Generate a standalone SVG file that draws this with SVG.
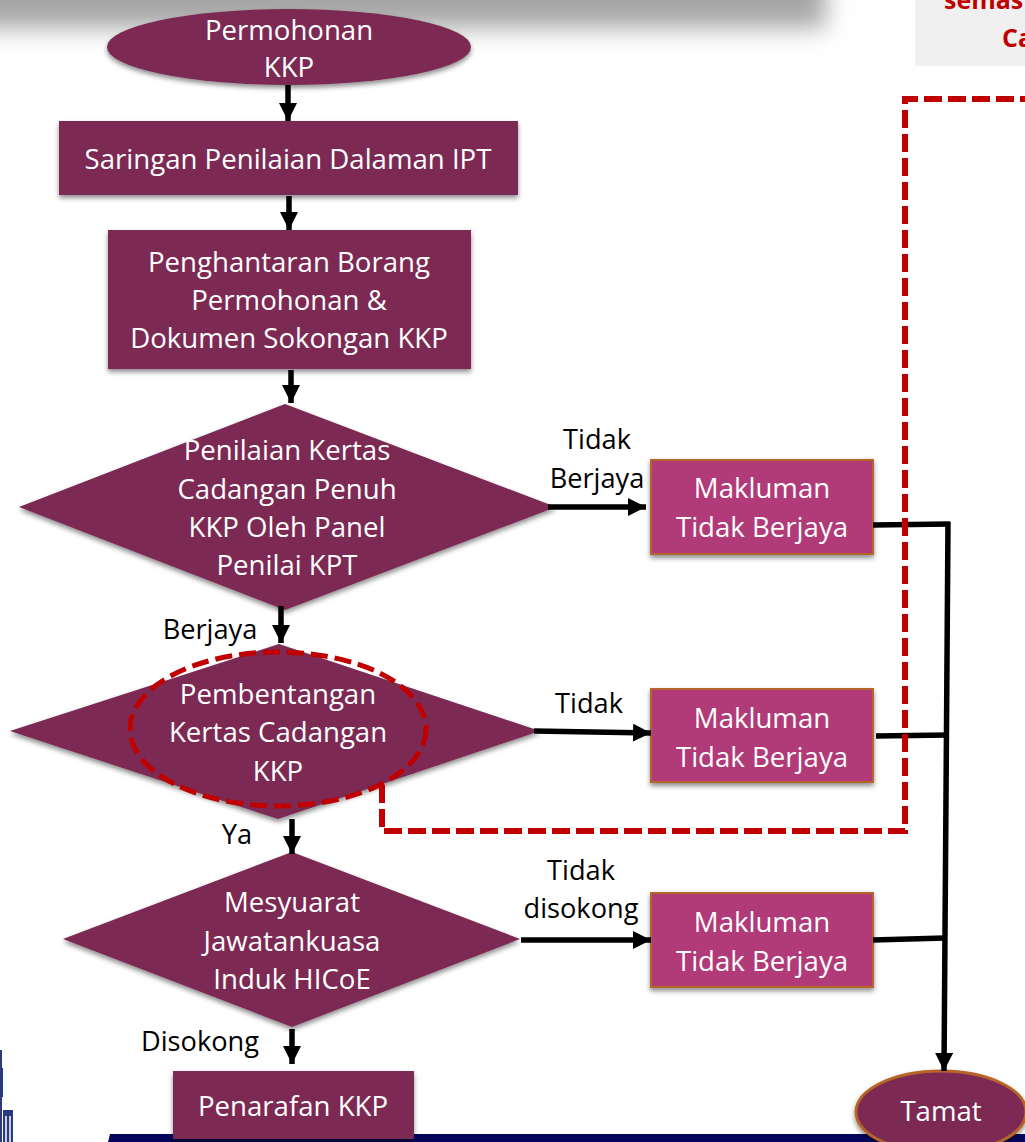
<svg xmlns="http://www.w3.org/2000/svg" width="1025" height="1142" viewBox="0 0 1025 1142">
<style>
text{font-family:"Open Sans","Noto Sans",sans-serif;font-size:27.6px;text-anchor:middle}
.w{fill:#fff}.k{fill:#000;font-size:27.2px}
.r{fill:#c00000;font-weight:700;font-size:25px;text-anchor:start}
.n{fill:#7b2a53;filter:url(#sh)}
.m{fill:#b03a78;stroke:#b5652a;stroke-width:2;filter:url(#sh)}
.c{fill:none;stroke:#000;stroke-width:5.5}
.a{fill:none;stroke:#000;stroke-width:5.5;marker-end:url(#ah)}
.d{fill:none;stroke:#c00000;stroke-width:6;stroke-dasharray:18 6}
.e{stroke-width:5;stroke-dasharray:17 7}
</style>
<defs>
<filter id="sh" x="-10%" y="-10%" width="120%" height="125%"><feDropShadow dx="0" dy="3" stdDeviation="2.5" flood-color="#000" flood-opacity=".45"/></filter>
<filter id="bl" x="-10%" y="-150%" width="120%" height="400%"><feGaussianBlur stdDeviation="12"/></filter>
<marker id="ah" markerUnits="userSpaceOnUse" markerWidth="20" markerHeight="20" refX="18" refY="9" orient="auto"><path d="M0 0L18 9L0 18Z" fill="#000"/></marker>
</defs>
<rect width="1025" height="1142" fill="#fff"/>
<g id="background">
<rect x="-40" y="-40" width="866" height="68" fill="#a6a6a6" filter="url(#bl)"/>
<rect x="915" y="0" width="110" height="66" fill="#f0f0f0"/>
<text class="r" x="944" y="9">semas</text>
<text class="r" x="1002" y="47">Ca</text>
<path d="M108 1142L110 1134H1025V1142Z" fill="#05055c"/>
<path d="M0 1050H2V1068H3V1097H2V1142H0Z" fill="#2a3a80"/>
<path d="M3 1110H13V1142H3Z" fill="#2a3a80"/>
<path d="M5 1116H7V1142H5ZM9 1116H11V1142H9Z" fill="#c8cde0"/>
</g>
<g id="node-permohonan"><ellipse class="n" cx="289" cy="47" rx="182" ry="38"/><text class="w" x="289" y="40">Permohonan</text><text class="w" x="289" y="77">KKP</text></g>
<g id="node-saringan"><rect class="n" x="59" y="121" width="459" height="74"/><text class="w" x="288" y="169">Saringan Penilaian Dalaman IPT</text></g>
<g id="node-penghantaran"><rect class="n" x="108" y="230" width="363" height="139"/><text class="w" x="289" y="272">Penghantaran Borang</text><text class="w" x="289" y="310">Permohonan &amp;</text><text class="w" x="289" y="348">Dokumen Sokongan KKP</text></g>
<g id="node-penilaian"><path class="n" d="M285 404L556 507L285 610L19 507Z"/><text class="w" x="287" y="460">Penilaian Kertas</text><text class="w" x="287" y="499">Cadangan Penuh</text><text class="w" x="287" y="537">KKP Oleh Panel</text><text class="w" x="287" y="575">Penilai KPT</text></g>
<g id="node-pembentangan"><path class="n" d="M279 644L540 731L278 819L10 731Z"/><text class="w" x="278" y="704">Pembentangan</text><text class="w" x="278" y="742">Kertas Cadangan</text><text class="w" x="278" y="781">KKP</text></g>
<g id="node-mesyuarat"><path class="n" d="M292 852L520 939L292 1027L63 939Z"/><text class="w" x="292" y="912">Mesyuarat</text><text class="w" x="292" y="951">Jawatankuasa</text><text class="w" x="292" y="989">Induk HICoE</text></g>
<g id="node-makluman1"><rect class="m" x="651" y="460" width="222" height="94"/><text class="w" x="762" y="498">Makluman</text><text class="w" x="762" y="537">Tidak Berjaya</text></g>
<g id="node-makluman2"><rect class="m" x="651" y="689" width="222" height="93"/><text class="w" x="762" y="728">Makluman</text><text class="w" x="762" y="767">Tidak Berjaya</text></g>
<g id="node-makluman3"><rect class="m" x="651" y="893" width="222" height="94"/><text class="w" x="762" y="932">Makluman</text><text class="w" x="762" y="971">Tidak Berjaya</text></g>
<g id="node-penarafan"><rect class="n" x="173" y="1071" width="241" height="68"/><text class="w" x="293" y="1116">Penarafan KKP</text></g>
<g id="node-tamat"><ellipse cx="941" cy="1112" rx="85" ry="41" fill="#7b2a53" stroke="#b5652a" stroke-width="3" filter="url(#sh)"/><text class="w" x="941" y="1121">Tamat</text></g>
<g id="connectors">
<path class="a" d="M288 85V121"/><path class="a" d="M289 196V230"/><path class="a" d="M291 370V403"/>
<path class="a" d="M281 606V643"/><path class="a" d="M292 819V854"/><path class="a" d="M292 1029V1064"/>
<path class="a" d="M548 507H646"/><path class="a" d="M534 731L651 733"/><path class="a" d="M521 940H651"/>
<path class="c" d="M873 525L950 524"/><path class="c" d="M876 736L948 735"/><path class="c" d="M873 940L945 938"/>
<path class="a" d="M948 522L944 1071"/>
<ellipse class="d e" cx="278" cy="729" rx="148" ry="77"/>
<path class="d" d="M382 785V831H905V99H1025"/>
</g>
<g id="labels">
<text class="k" x="597" y="449">Tidak</text><text class="k" x="597" y="488">Berjaya</text>
<text class="k" x="210" y="639">Berjaya</text>
<text class="k" x="589" y="713">Tidak</text>
<text class="k" x="237" y="844">Ya</text>
<text class="k" x="581" y="880">Tidak</text><text class="k" x="581" y="918">disokong</text>
<text class="k" x="200" y="1051">Disokong</text>
</g>
</svg>
